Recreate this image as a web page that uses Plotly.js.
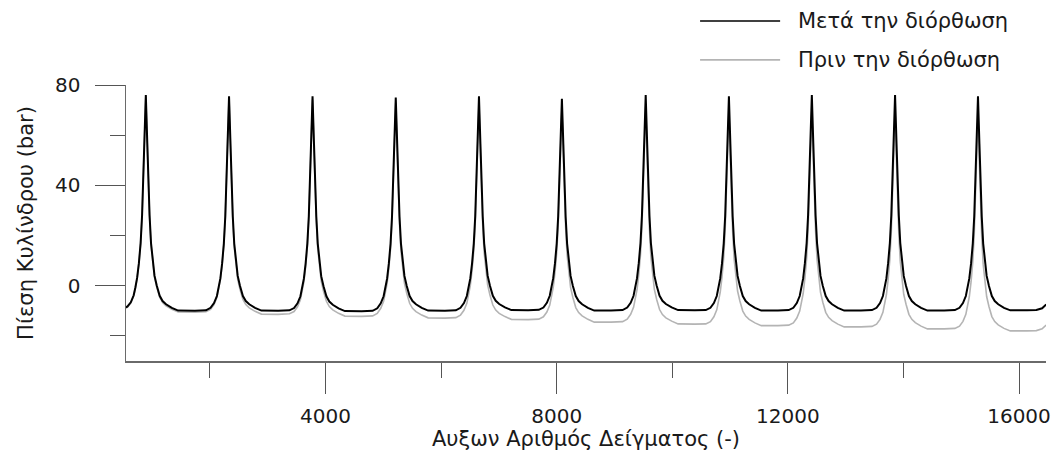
<!DOCTYPE html>
<html>
<head>
<meta charset="utf-8">
<script src="https://cdn.plot.ly/plotly-3.0.1.min.js"></script>
<style>html,body{margin:0;padding:0;background:#fff;}#chart{width:1057px;height:463px;}</style>
</head>
<body>
<div id="chart"></div>
<script>
// Sample index (x) for every point, cycle by cycle
const sampleIndex = [
  490, 570, 630, 680, 710, 740, 770, 800, 825, 845, 865, 890, 915, 935, 955, 980, 1010, 1040, 1080, 1130, 1180, 1240, 1340, 1450, 1740,
  1930, 2010, 2070, 2120, 2150, 2180, 2210, 2240, 2265, 2285, 2305, 2330, 2355, 2375, 2395, 2420, 2450, 2480, 2520, 2570, 2620, 2680, 2780, 2890, 3180,
  3375, 3455, 3515, 3565, 3595, 3625, 3655, 3685, 3710, 3730, 3750, 3775, 3800, 3820, 3840, 3865, 3895, 3925, 3965, 4015, 4065, 4125, 4225, 4335, 4625,
  4815, 4895, 4955, 5005, 5035, 5065, 5095, 5125, 5150, 5170, 5190, 5215, 5240, 5260, 5280, 5305, 5335, 5365, 5405, 5455, 5505, 5565, 5665, 5775, 6065,
  6255, 6335, 6395, 6445, 6475, 6505, 6535, 6565, 6590, 6610, 6630, 6655, 6680, 6700, 6720, 6745, 6775, 6805, 6845, 6895, 6945, 7005, 7105, 7215, 7505,
  7690, 7770, 7830, 7880, 7910, 7940, 7970, 8000, 8025, 8045, 8065, 8090, 8115, 8135, 8155, 8180, 8210, 8240, 8280, 8330, 8380, 8440, 8540, 8650, 8940,
  9140, 9220, 9280, 9330, 9360, 9390, 9420, 9450, 9475, 9495, 9515, 9540, 9565, 9585, 9605, 9630, 9660, 9690, 9730, 9780, 9830, 9890, 9990, 10100, 10390,
  10580, 10660, 10720, 10770, 10800, 10830, 10860, 10890, 10915, 10935, 10955, 10980, 11005, 11025, 11045, 11070, 11100, 11130, 11170, 11220, 11270, 11330, 11430, 11540, 11830,
  12015, 12095, 12155, 12205, 12235, 12265, 12295, 12325, 12350, 12370, 12390, 12415, 12440, 12460, 12480, 12505, 12535, 12565, 12605, 12655, 12705, 12765, 12865, 12975, 13265,
  13455, 13535, 13595, 13645, 13675, 13705, 13735, 13765, 13790, 13810, 13830, 13855, 13880, 13900, 13920, 13945, 13975, 14005, 14045, 14095, 14145, 14205, 14305, 14415, 14705,
  14890, 14970, 15030, 15080, 15110, 15140, 15170, 15200, 15225, 15245, 15265, 15290, 15315, 15335, 15355, 15380, 15410, 15440, 15480, 15530, 15580, 15640, 15740, 15850, 16140,
  16300, 16400, 16470
];

// Cylinder pressure after correction (bar)
const pressureAfter = [
  -9.0, -8.3, -6.6, -3.8, -0.6, 3.2, 9.0, 17.0, 28.0, 41.0, 57.0, 76.0, 57.0, 41.0, 28.0, 17.0, 9.5, 4.0, 0.0, -4.0, -6.1, -7.4, -8.8, -9.9, -10.0,
  -9.8, -8.8, -6.9, -4.1, -0.9, 2.9, 8.8, 16.8, 27.6, 40.6, 56.6, 75.5, 56.6, 40.6, 27.6, 16.8, 9.3, 3.9, -0.1, -4.1, -6.1, -7.4, -8.8, -9.9, -10.0,
  -9.8, -8.9, -7.0, -4.2, -1.0, 2.8, 8.8, 16.8, 27.6, 40.6, 56.6, 75.5, 56.6, 40.6, 27.6, 16.8, 9.3, 3.8, -0.2, -4.2, -6.3, -7.6, -9.0, -10.1, -10.2,
  -10.0, -9.0, -7.0, -4.2, -1.0, 2.8, 8.8, 16.8, 27.5, 40.5, 56.5, 75.0, 56.5, 40.5, 27.5, 16.8, 9.3, 3.9, -0.1, -4.1, -6.1, -7.4, -8.8, -9.9, -10.0,
  -9.8, -8.8, -6.9, -4.1, -0.9, 2.9, 8.8, 16.8, 27.6, 40.6, 56.6, 75.5, 56.6, 40.6, 27.6, 16.8, 9.4, 4.0, 0.0, -4.0, -6.0, -7.3, -8.6, -9.7, -9.8,
  -9.6, -8.7, -6.8, -4.0, -0.8, 3.0, 8.9, 16.8, 27.4, 40.4, 56.3, 74.5, 56.3, 40.4, 27.4, 16.8, 9.3, 3.9, -0.1, -4.1, -6.1, -7.4, -8.8, -9.9, -9.9,
  -9.7, -8.7, -6.8, -4.0, -0.8, 3.0, 9.0, 17.0, 28.0, 41.0, 57.0, 76.0, 57.0, 41.0, 28.0, 17.0, 9.5, 4.0, 0.0, -4.0, -6.0, -7.3, -8.6, -9.7, -9.8,
  -9.7, -8.8, -6.9, -4.1, -0.9, 2.9, 8.8, 16.8, 27.6, 40.6, 56.6, 75.5, 56.6, 40.6, 27.6, 16.8, 9.3, 3.9, -0.1, -4.1, -6.1, -7.4, -8.8, -9.9, -9.9,
  -9.7, -8.8, -6.9, -4.1, -0.9, 2.9, 9.0, 17.0, 28.0, 41.0, 57.0, 76.0, 57.0, 41.0, 28.0, 17.0, 9.4, 3.9, -0.1, -4.1, -6.1, -7.4, -8.8, -9.9, -9.9,
  -9.7, -8.8, -6.9, -4.1, -0.9, 2.9, 9.0, 17.0, 28.0, 41.0, 57.0, 76.0, 57.0, 41.0, 28.0, 17.0, 9.4, 3.9, -0.1, -4.1, -6.1, -7.4, -8.8, -9.9, -9.9,
  -9.7, -8.8, -6.9, -4.1, -0.9, 2.9, 8.8, 16.8, 27.6, 40.6, 56.6, 75.5, 56.6, 40.6, 27.6, 16.8, 9.3, 3.9, -0.1, -4.1, -6.1, -7.4, -8.8, -9.8, -9.8,
  -9.7, -9.0, -7.5
];

// Cylinder pressure before correction (bar)
const pressureBefore = [
  -9.3, -8.6, -6.9, -4.1, -0.9, 2.9, 8.7, 16.7, 27.7, 40.7, 56.7, 75.7, 56.4, 40.4, 27.4, 16.4, 8.9, 3.4, -0.6, -4.6, -6.7, -8.0, -9.4, -10.5, -10.6,
  -10.4, -9.4, -7.5, -4.7, -1.5, 2.3, 8.2, 16.2, 27.0, 40.0, 56.0, 74.9, 55.2, 39.2, 26.2, 15.4, 7.9, 2.5, -1.5, -5.5, -7.5, -8.8, -10.2, -11.3, -11.4,
  -11.2, -10.3, -8.4, -5.6, -2.4, 1.4, 7.4, 15.4, 26.2, 39.2, 55.2, 74.1, 54.6, 38.6, 25.6, 14.8, 7.3, 1.8, -2.2, -6.2, -8.3, -9.6, -11.0, -12.1, -12.2,
  -12.0, -11.0, -9.0, -6.2, -3.0, 0.8, 6.8, 14.8, 25.5, 38.5, 54.5, 73.0, 53.6, 37.6, 24.6, 13.9, 6.4, 1.0, -3.0, -7.0, -9.0, -10.3, -11.7, -12.8, -12.9,
  -12.7, -11.7, -9.8, -7.0, -3.8, 0.0, 5.9, 13.9, 24.7, 37.7, 53.7, 72.6, 52.9, 36.9, 23.9, 13.1, 5.7, 0.3, -3.7, -7.7, -9.7, -11.0, -12.3, -13.4, -13.5,
  -13.3, -12.4, -10.5, -7.7, -4.5, -0.7, 5.2, 13.1, 23.7, 36.7, 52.6, 70.8, 51.7, 35.8, 22.8, 12.2, 4.7, -0.7, -4.7, -8.7, -10.7, -12.0, -13.4, -14.5, -14.5,
  -14.3, -13.3, -11.4, -8.6, -5.4, -1.6, 4.4, 12.4, 23.4, 36.4, 52.4, 71.4, 51.5, 35.5, 22.5, 11.5, 4.0, -1.5, -5.5, -9.5, -11.5, -12.8, -14.1, -15.2, -15.3,
  -15.2, -14.3, -12.4, -9.6, -6.4, -2.6, 3.3, 11.3, 22.1, 35.1, 51.1, 70.0, 50.6, 34.6, 21.6, 10.8, 3.3, -2.1, -6.1, -10.1, -12.1, -13.4, -14.8, -15.9, -15.9,
  -15.7, -14.8, -12.9, -10.1, -6.9, -3.1, 3.0, 11.0, 22.0, 35.0, 51.0, 70.0, 50.5, 34.5, 21.5, 10.5, 2.9, -2.6, -6.6, -10.6, -12.6, -13.9, -15.3, -16.4, -16.4,
  -16.2, -15.3, -13.4, -10.6, -7.4, -3.6, 2.5, 10.5, 21.5, 34.5, 50.5, 69.5, 49.7, 33.7, 20.7, 9.7, 2.1, -3.4, -7.4, -11.4, -13.4, -14.7, -16.1, -17.2, -17.2,
  -17.0, -16.1, -14.2, -11.4, -8.2, -4.4, 1.5, 9.5, 20.3, 33.3, 49.3, 68.2, 48.4, 32.4, 19.4, 8.6, 1.1, -4.3, -8.3, -12.3, -14.3, -15.6, -17.0, -18.0, -18.0,
  -17.9, -17.2, -15.7
];

const seriesNames = ['Μετά την διόρθωση', 'Πριν την διόρθωση'];
const seriesColors = ['#000000', '#b4b4b4'];
const xTitle = 'Αυξων Αριθμός Δείγματος (-)';
const yTitle = 'Πίεση Κυλίνδρου (bar)';

const FONT = 'DejaVu Sans, Liberation Sans, Arial, sans-serif';

const traces = [
  { x: sampleIndex, y: pressureBefore, type: 'scatter', mode: 'lines', name: seriesNames[1],
    line: { color: seriesColors[1], width: 1.6 }, showlegend: false },
  { x: sampleIndex, y: pressureAfter, type: 'scatter', mode: 'lines', name: seriesNames[0],
    line: { color: seriesColors[0], width: 2 }, showlegend: false }
];

// Hand-drawn legend (long line samples, as in the original)
const legendShapes = [
  { type: 'line', xref: 'paper', yref: 'paper', x0: 0.624, x1: 0.711, y0: 1.232, y1: 1.232,
    line: { color: seriesColors[0], width: 1.6 } },
  { type: 'line', xref: 'paper', yref: 'paper', x0: 0.624, x1: 0.711, y0: 1.091, y1: 1.091,
    line: { color: seriesColors[1], width: 1.6 } }
];
const legendText = [
  { xref: 'paper', yref: 'paper', x: 0.728, y: 1.232, xanchor: 'left', yanchor: 'middle',
    text: seriesNames[0], showarrow: false, font: { family: FONT, size: 21, color: '#1a1a1a' } },
  { xref: 'paper', yref: 'paper', x: 0.728, y: 1.091, xanchor: 'left', yanchor: 'middle',
    text: seriesNames[1], showarrow: false, font: { family: FONT, size: 21, color: '#1a1a1a' } }
];

const layout = {
  width: 1057, height: 463,
  margin: { l: 126, r: 11, t: 85, b: 102 },
  paper_bgcolor: '#ffffff', plot_bgcolor: '#ffffff',
  font: { family: FONT, size: 20, color: '#1a1a1a' },
  showlegend: false,
  xaxis: {
    range: [547, 16467], showgrid: false, zeroline: false,
    showline: true, linecolor: '#6a6a6a', linewidth: 1.5,
    ticks: 'outside', ticklen: 31, tickwidth: 1, tickcolor: '#555555',
    tick0: 0, dtick: 4000, tickformat: 'd',
    minor: { dtick: 2000, tick0: 0, ticks: 'outside', ticklen: 15, tickwidth: 1, tickcolor: '#555555', showgrid: false },
    ticklabelstandoff: 5,
    tickfont: { family: FONT, size: 20, color: '#1a1a1a' },
    title: { text: xTitle, font: { family: FONT, size: 21, color: '#1a1a1a' }, standoff: 4 },
    automargin: false
  },
  yaxis: {
    range: [-30, 80], showgrid: false, zeroline: false,
    showline: true, linecolor: '#6a6a6a', linewidth: 1.5,
    ticks: 'outside', ticklen: 30, tickwidth: 1, tickcolor: '#555555',
    tick0: 0, dtick: 40,
    minor: { dtick: 20, tick0: 0, ticks: 'outside', ticklen: 15, tickwidth: 1, tickcolor: '#555555', showgrid: false },
    ticklabelstandoff: 10,
    tickfont: { family: FONT, size: 20, color: '#1a1a1a' },
    title: { text: yTitle, font: { family: FONT, size: 21, color: '#1a1a1a' }, standoff: 15 },
    automargin: false
  },
  shapes: legendShapes,
  annotations: legendText
};

Plotly.newPlot('chart', traces, layout, { displayModeBar: false, staticPlot: true });
</script>
</body>
</html>
